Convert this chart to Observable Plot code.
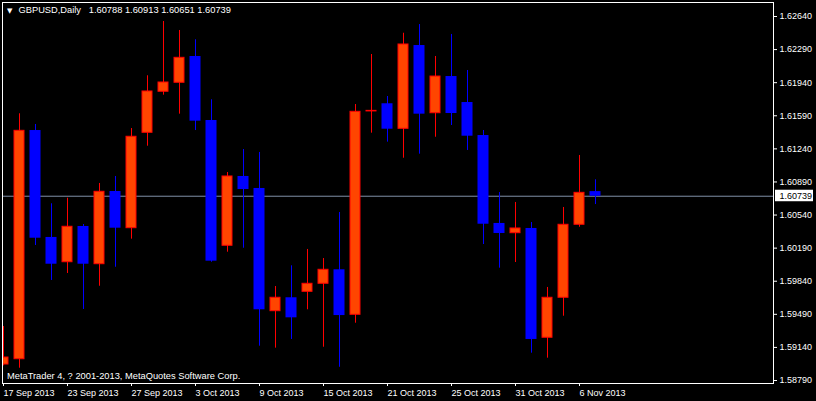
<!DOCTYPE html>
<html><head><meta charset="utf-8">
<script src="https://cdn.jsdelivr.net/npm/d3@7"></script>
<script src="https://cdn.jsdelivr.net/npm/@observablehq/plot@0.6"></script>
<style>
html,body{margin:0;padding:0;background:#000;}
#chart svg{display:block}
</style></head><body><div id="chart"></div>
<script>
const symbolName = "GBPUSD,Daily";
const caption = "MetaTrader 4, ? 2001-2013, MetaQuotes Software Corp.";
const days = ["17 Sep 2013","18 Sep 2013","19 Sep 2013","20 Sep 2013","23 Sep 2013","24 Sep 2013","25 Sep 2013","26 Sep 2013","27 Sep 2013","30 Sep 2013",
  "1 Oct 2013","2 Oct 2013","3 Oct 2013","4 Oct 2013","7 Oct 2013","8 Oct 2013","9 Oct 2013","10 Oct 2013","11 Oct 2013","14 Oct 2013",
  "15 Oct 2013","16 Oct 2013","17 Oct 2013","18 Oct 2013","21 Oct 2013","22 Oct 2013","23 Oct 2013","24 Oct 2013","25 Oct 2013","28 Oct 2013",
  "29 Oct 2013","30 Oct 2013","31 Oct 2013","1 Nov 2013","4 Nov 2013","5 Nov 2013","6 Nov 2013","7 Nov 2013"];
const openP  = [1.58959,1.59015,1.61434,1.60303,1.60041,1.60419,1.60020,1.60789,1.60401,1.61410,
  1.61844,1.61939,1.62217,1.61540,1.60215,1.60948,1.60821,1.59523,1.59665,1.59728,
  1.59813,1.59961,1.59485,1.61636,1.61717,1.61452,1.62333,1.61617,1.62005,1.61730,
  1.61381,1.60451,1.60348,1.60398,1.59242,1.59665,1.60437,1.60788];
const highP  = [1.59361,1.61611,1.61498,1.60659,1.60718,1.60440,1.60874,1.60948,1.61455,1.62013,
  1.62587,1.62492,1.62394,1.61759,1.60990,1.61233,1.61202,1.59784,1.60003,1.60176,
  1.60080,1.60567,1.61709,1.62238,1.61794,1.62463,1.62555,1.62217,1.62450,1.62069,
  1.61434,1.60778,1.60673,1.60461,1.59774,1.60620,1.61170,1.60913];
const lowP   = [1.58945,1.58920,1.60218,1.59848,1.59922,1.59541,1.59787,1.59988,1.60285,1.61268,
  1.61808,1.61607,1.61434,1.60041,1.60147,1.60189,1.59153,1.59132,1.59224,1.59538,
  1.59142,1.58930,1.59396,1.61406,1.61311,1.61141,1.61184,1.61363,1.61487,1.61223,
  1.60228,1.59978,1.60038,1.59079,1.59026,1.59470,1.60411,1.60651];
const closeP = [1.59033,1.61431,1.60295,1.60020,1.60416,1.60020,1.60786,1.60401,1.61368,1.61847,
  1.61942,1.62203,1.61533,1.60052,1.60948,1.60810,1.59538,1.59665,1.59453,1.59813,
  1.59961,1.59477,1.61632,1.61642,1.61448,1.62344,1.61607,1.62005,1.61614,1.61374,
  1.60443,1.60345,1.60398,1.59224,1.59665,1.60437,1.60775,1.60739];
const xTickLabels = ["17 Sep 2013","23 Sep 2013","27 Sep 2013","3 Oct 2013","9 Oct 2013","15 Oct 2013","21 Oct 2013","25 Oct 2013","31 Oct 2013","6 Nov 2013"];
const yTickValues = [1.62640,1.62290,1.61940,1.61590,1.61240,1.60890,1.60540,1.60190,1.59840,1.59490,1.59140,1.58790];

const W = 816, H = 401, mL = 2, mR = 43, mT = 2, mB = 18;
const half = 5.5 / 16;
const f5 = v => v.toFixed(5);
const candles = days.map((d, i) => ({i, day: d, open: openP[i], high: highP[i], low: lowP[i], close: closeP[i], up: closeP[i] >= openP[i]}));
const bull = candles.filter(d => d.up), bear = candles.filter(d => !d.up);
const lastC = candles[candles.length - 1];
const header = `${symbolName}\u00a0\u00a0\u00a0${[lastC.open, lastC.high, lastC.low, lastC.close].map(f5).join(" ")}`;
const xTicks = xTickLabels.map(l => days.indexOf(l));
const yDomain = [d3.min(yTickValues), d3.max(yTickValues)];

const chart = Plot.plot({
  width: W, height: H,
  marginLeft: mL, marginRight: mR, marginTop: mT, marginBottom: mB,
  style: {background: "#000", color: "#fff", fontFamily: "'Liberation Sans', Arial, sans-serif", fontSize: "9px"},
  x: {type: "linear", domain: [0, 48], range: [3, 771], label: null},
  y: {type: "linear", domain: yDomain, range: [380, 16], label: null},
  marks: [
    Plot.ruleY([lastC.close], {stroke: "#8090a8", strokeWidth: 1}),
    Plot.ruleX(bull, {x: "i", y1: "low", y2: "high", stroke: "#ff0000", clip: true}),
    Plot.ruleX(bear, {x: "i", y1: "low", y2: "high", stroke: "#0000ff", clip: true}),
    Plot.rect(bear, {x1: d => d.i - half, x2: d => d.i + half, y1: "open", y2: "close", fill: "#0000ff", clip: true}),
    Plot.rect(bull, {x1: d => d.i - half, x2: d => d.i + half, y1: "open", y2: "close", fill: "#ff4500", stroke: "#ff0000", insetLeft: 0.5, insetRight: 0.5, clip: true}),
    Plot.frame({stroke: "#fff"}),
    Plot.axisY({anchor: "right", ticks: yTickValues, tickFormat: f5, tickSize: 3, tickPadding: 3, stroke: "#fff", fill: "#fff", label: null}),
    Plot.axisX({anchor: "bottom", ticks: xTicks, tickFormat: i => days[i], tickSize: 3, tickPadding: 3, textAnchor: "start", stroke: "#fff", fill: "#fff", label: null}),
    Plot.text([header], {frameAnchor: "top-left", text: d => d, textAnchor: "start", lineAnchor: "bottom", dx: 16, dy: 10.8, fill: "#fff", fontSize: 9.3}),
    Plot.text(["\u25bc"], {frameAnchor: "top-left", text: d => d, textAnchor: "middle", lineAnchor: "middle", dx: 7.2, dy: 8.6, fill: "#fff", fontSize: 7, fontFamily: "DejaVu Sans"}),
    Plot.text([caption], {frameAnchor: "bottom-left", text: d => d, textAnchor: "start", lineAnchor: "bottom", dx: 4.5, dy: -4.8, fill: "#fff", fontSize: 9.3})
  ]
});

// current price label on the right axis, positioned via the plot's y scale
let yScale;
try { yScale = chart.scale("y"); } catch (e) {}
const yPix = (yScale && yScale.apply) ? yScale.apply(lastC.close) : d3.scaleLinear(yDomain, [380, 16])(lastC.close);
const frameRight = W - mR;
const g = d3.select(chart).append("g");
g.append("rect").attr("x", frameRight + 2).attr("y", yPix - 6).attr("width", 38).attr("height", 11.5).attr("fill", "#fff");
g.append("text").attr("x", frameRight + 6.5).attr("y", yPix + 0.5).attr("dy", "0.32em").attr("fill", "#000")
  .attr("text-anchor", "start").attr("font-size", 9).attr("font-family", "'Liberation Sans', Arial, sans-serif")
  .text(f5(lastC.close));

document.getElementById("chart").appendChild(chart);
</script>
</body></html>
